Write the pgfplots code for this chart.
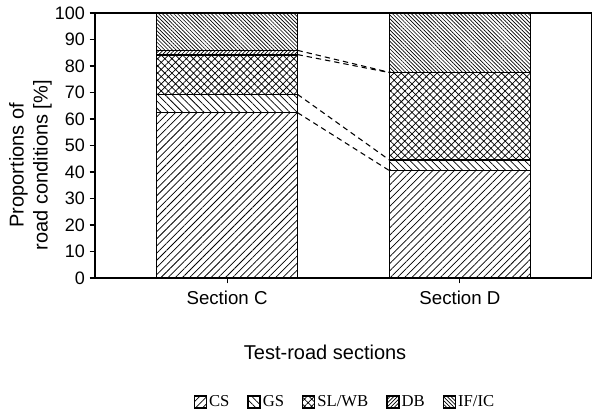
\documentclass[border=0pt]{standalone}
\usepackage{fontspec}
\setmainfont{Liberation Sans}
\newfontfamily\legfont{Liberation Serif}
\usepackage{pgfplots}
\pgfplotsset{compat=1.18}
\usetikzlibrary{patterns.meta}
\begin{document}
\begin{tikzpicture}
\path[use as bounding box] (-71.25pt,-104.25pt) rectangle (372.75pt,208.5pt);
\begin{axis}[
  scale only axis,
  width=372.75pt, height=198.75pt,
  xmin=-0.567, xmax=1.567,
  ymin=0, ymax=100,
  ybar stacked, bar width=0.605,
  xtick={0,1}, xticklabels={Section C, Section D},
  ytick={0,10,...,100},
  tick align=outside,
  xtick pos=bottom, ytick pos=left,
  major tick length=4pt,
  axis line style={line width=1.3pt},
  tick style={line width=0.8pt, black},
  tick label style={font=\fontsize{13.5}{15}\selectfont},
  /pgf/number format/assume math mode=true,
  xticklabel style={font=\fontsize{14}{16}\selectfont, yshift=-2pt},
  ylabel={Proportions of\\road conditions [\%]},
  ylabel style={at={(axis description cs:-0.13,0.426)}, anchor=center, align=center, font=\fontsize{15}{18}\selectfont},
  xlabel={Test-road sections},
  xlabel style={at={(axis description cs:0.463,-0.279)}, anchor=center, font=\fontsize{15}{18}\selectfont},
  legend columns=5,
  legend style={at={(axis description cs:0.503,-0.468)}, anchor=center, draw=none,
    font=\legfont\fontsize{12.5}{14}\selectfont,
    /tikz/every odd column/.append style={column sep=0pt},
    /tikz/every even column/.append style={column sep=12pt},
    nodes={inner xsep=1.5pt}},
  legend image code/.code={\draw[#1, line width=1pt] (0pt,-4.5pt) rectangle (9pt,4.5pt);},
]
\addplot[draw=black, line width=1.1pt, pattern={Lines[angle=45,distance=3.8pt,line width=0.55pt]}] coordinates {(0,62.4) (1,40.5)};
\addlegendentry{CS}
\addplot[draw=black, line width=1.1pt, pattern={Lines[angle=-45,distance=3.8pt,line width=0.55pt]}] coordinates {(0,6.9) (1,4.0)};
\addlegendentry{GS}
\addplot[draw=black, line width=1.1pt, pattern={Hatch[angle=45,distance=3.8pt,line width=0.55pt]}] coordinates {(0,14.9) (1,33.0)};
\addlegendentry{SL/WB}
\addplot[draw=black, line width=1.1pt, pattern={Lines[angle=45,distance=2pt,line width=0.5pt]}] coordinates {(0,1.6) (1,0)};
\addlegendentry{DB}
\addplot[draw=black, line width=1.1pt, pattern={Lines[angle=-45,distance=2pt,line width=0.5pt]}] coordinates {(0,14.2) (1,22.5)};
\addlegendentry{IF/IC}
\end{axis}
\begin{axis}[
  scale only axis,
  width=372.75pt, height=198.75pt,
  xmin=-0.567, xmax=1.567,
  ymin=0, ymax=100,
  axis lines=none,
]
\addplot[black, line width=0.8pt, dash pattern=on 4pt off 3pt] coordinates {(0.3025,62.4) (0.6975,40.5)};
\addplot[black, line width=0.8pt, dash pattern=on 4pt off 3pt] coordinates {(0.3025,69.3) (0.6975,44.5)};
\addplot[black, line width=0.8pt, dash pattern=on 4pt off 3pt] coordinates {(0.3025,84.3) (0.6975,77.5)};
\addplot[black, line width=0.8pt, dash pattern=on 4pt off 3pt] coordinates {(0.3025,85.9) (0.6975,77.6)};
\end{axis}
\end{tikzpicture}
\end{document}
